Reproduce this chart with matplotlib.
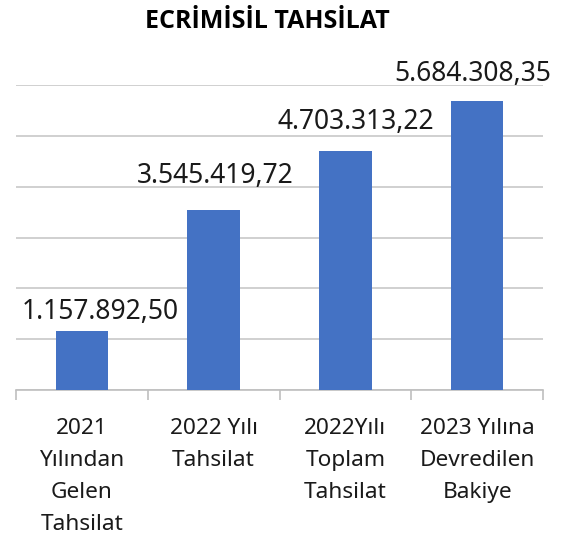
import matplotlib
matplotlib.use('Agg')
import matplotlib.pyplot as plt

plt.rcParams['font.family'] = ['Noto Sans', 'DejaVu Sans']

# veriler
kategoriler = ['2021\nYılından\nGelen\nTahsilat', '2022 Yılı\nTahsilat',
               '2022Yılı\nToplam\nTahsilat', '2023 Yılına\nDevredilen\nBakiye']
degerler = [1157892.50, 3545419.72, 4703313.22, 5684308.35]
# etiket kaydırmaları (piksel)
etiket_dx = [18, 2, 10, -4]
etiket_dy = [19, 34, 29, 27]


def tr_format(v):
    s = '{:,.2f}'.format(v)
    return s.replace(',', 'X').replace('.', ',').replace('X', '.')


fig = plt.figure(figsize=(5.71, 5.37), dpi=100)
ax = fig.add_axes([16 / 571, 1 - 390 / 537, 527 / 571, 305 / 537])

x = list(range(len(kategoriler)))
ax.bar(x, degerler, width=0.4, color='#4472C4', zorder=3)

ax.set_xlim(-0.5, len(kategoriler) - 0.5)
ax.set_ylim(0, 6000000)
ax.set_yticks(range(0, 6000001, 1000000))
ax.yaxis.grid(True, color='#c8c8c8', linewidth=1.2, zorder=0)
ax.tick_params(axis='y', left=False, labelleft=False)

for s in ['top', 'right', 'left']:
    ax.spines[s].set_visible(False)
ax.spines['bottom'].set_color('#bfbfbf')
ax.spines['bottom'].set_linewidth(1.2)

# kategori sınırlarında tik işaretleri
ax.set_xticks([i - 0.5 for i in range(len(kategoriler) + 1)], minor=False)
ax.set_xticklabels([])
ax.tick_params(axis='x', which='major', length=7, width=1.2, color='#bfbfbf')
ax.set_xticks(x, minor=True)
ax.set_xticklabels(kategoriler, minor=True, fontsize=16.3, linespacing=1.7,
                   color='#1a1a1a')
ax.tick_params(axis='x', which='minor', length=0, pad=20)

for i, v in enumerate(degerler):
    ax.annotate(tr_format(v), (i, v), xytext=(etiket_dx[i], etiket_dy[i]),
                textcoords='offset pixels', ha='center', va='center',
                fontsize=19, color='#1a1a1a')

fig.text(267 / 571, 1 - 21 / 537, 'ECRİMİSİL TAHSİLAT', ha='center', va='center',
         fontsize=18, fontweight='bold', color='#000000',
         family=['Open Sans', 'DejaVu Sans'])

fig.savefig('out.png', dpi=100, facecolor='white')
